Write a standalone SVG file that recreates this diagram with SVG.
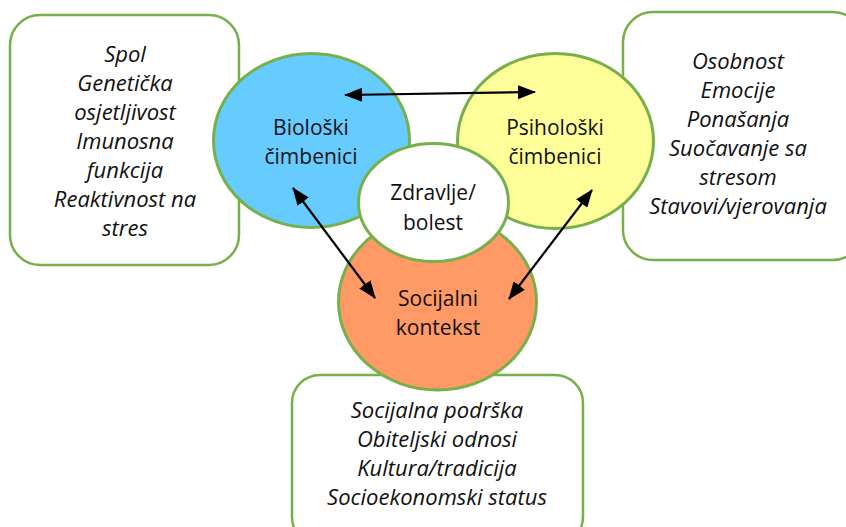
<svg xmlns="http://www.w3.org/2000/svg" width="846" height="527" viewBox="0 0 846 527">
<defs>
<style>
.box{fill:#fff;stroke:#77b04a;stroke-width:2.5}
.ell{stroke:#77b04a;stroke-width:3}
.lbl{font-family:"Open Sans","Liberation Sans",sans-serif;font-size:21px;fill:#111;text-anchor:middle}
.it{font-family:"Open Sans","Liberation Sans",sans-serif;font-size:22px;font-style:italic;fill:#111;text-anchor:middle}
.con{stroke:#000;stroke-width:2.2;fill:none;marker-start:url(#ah);marker-end:url(#ah)}
</style>
<marker id="ah" viewBox="0 0 18 14" refX="17" refY="7" markerWidth="18" markerHeight="14" orient="auto-start-reverse" markerUnits="userSpaceOnUse">
<path d="M0,0 L18,7 L0,14 z" fill="#000"/>
</marker>
</defs>
<rect width="846" height="527" fill="#fff"/>
<g id="box-bio">
<rect class="box" x="10" y="15" width="229" height="250" rx="30"/>
<text class="it"><tspan x="125" y="62">Spol</tspan><tspan x="125" y="91">Genetička</tspan><tspan x="125" y="120">osjetljivost</tspan><tspan x="125" y="149">Imunosna</tspan><tspan x="125" y="178">funkcija</tspan><tspan x="125" y="207">Reaktivnost na</tspan><tspan x="125" y="236">stres</tspan></text>
</g>
<g id="box-psi">
<rect class="box" x="623" y="12" width="240" height="248" rx="30"/>
<text class="it"><tspan x="738" y="69">Osobnost</tspan><tspan x="738" y="98">Emocije</tspan><tspan x="738" y="127">Ponašanja</tspan><tspan x="738" y="156">Suočavanje sa</tspan><tspan x="738" y="185">stresom</tspan><tspan x="738" y="214">Stavovi/vjerovanja</tspan></text>
</g>
<g id="box-soc">
<rect class="box" x="292" y="375" width="291" height="170" rx="28"/>
<text class="it"><tspan x="437" y="418">Socijalna podrška</tspan><tspan x="437" y="447">Obiteljski odnosi</tspan><tspan x="437" y="476">Kultura/tradicija</tspan><tspan x="437" y="505">Socioekonomski status</tspan></text>
</g>
<g id="bio">
<ellipse class="ell" cx="311.5" cy="140.5" rx="98" ry="87" fill="#66ccff"/>
<text class="lbl"><tspan x="311" y="135">Biološki</tspan><tspan x="311" y="164">čimbenici</tspan></text>
</g>
<g id="psi">
<ellipse class="ell" cx="555.5" cy="141" rx="98" ry="87.5" fill="#ffff99"/>
<text class="lbl"><tspan x="555" y="135">Psihološki</tspan><tspan x="555" y="164">čimbenici</tspan></text>
</g>
<g id="soc">
<ellipse class="ell" cx="437.5" cy="302" rx="99" ry="88" fill="#ff9966"/>
<text class="lbl"><tspan x="438" y="306">Socijalni</tspan><tspan x="438" y="335">kontekst</tspan></text>
</g>
<g id="zdr">
<ellipse class="ell" cx="433.5" cy="202.5" rx="75" ry="59" fill="#fff"/>
<text class="lbl"><tspan x="433" y="200">Zdravlje/</tspan><tspan x="433" y="230">bolest</tspan></text>
</g>
<g id="connectors">
<line class="con" x1="345" y1="95" x2="535" y2="92"/>
<line class="con" x1="293" y1="188" x2="375" y2="298"/>
<line class="con" x1="592" y1="190" x2="509" y2="299"/>
</g>
</svg>
